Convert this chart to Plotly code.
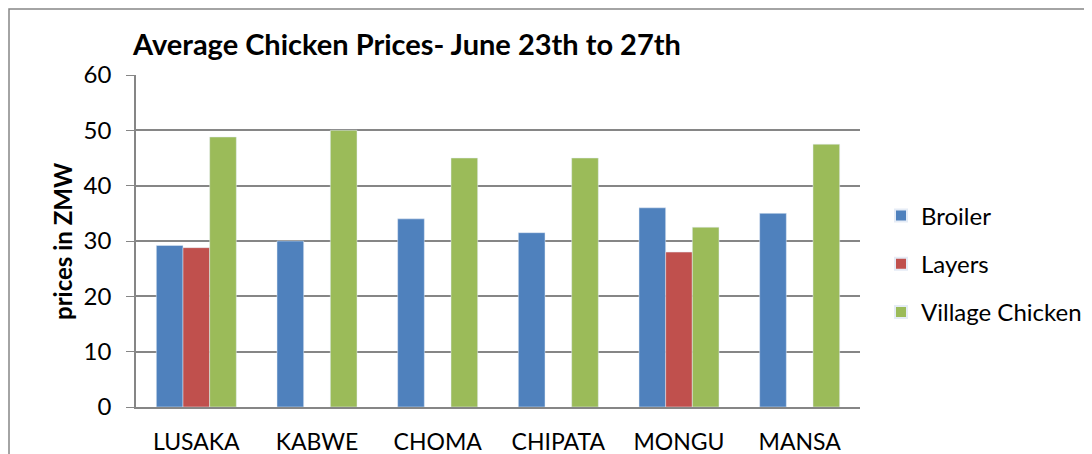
import plotly.graph_objects as go

cities = ["LUSAKA", "KABWE", "CHOMA", "CHIPATA", "MONGU", "MANSA"]
broiler = [29.2, 30, 34, 31.5, 36, 35]
layers = [28.8, None, None, None, 28, None]
village = [48.8, 50, 45, 45, 32.5, 47.5]
y_ticks = [0, 10, 20, 30, 40, 50, 60]

FONT = "Lato, Carlito, sans-serif"
OFF = 8  # page body margin
X0, X1, Y0, Y1 = 136, 860, 407, 75  # plot area on screen
PW, PH = X1 - X0, Y0 - Y1


def px(x):
    return (x - X0) / PW


def py(y):
    return (Y0 - y) / PH


fig = go.Figure()
fig.add_trace(go.Bar(name="Broiler", x=cities, y=broiler, marker_color="#4F81BD", legendgroup="a"))
fig.add_trace(go.Bar(name="Layers", x=cities, y=layers, marker_color="#C0504D", legendgroup="b"))
fig.add_trace(go.Bar(name="Village Chicken", x=cities, y=village, marker_color="#9BBB59", legendgroup="c"))

fig.update_layout(
    width=1092, height=454,
    barmode="group", bargap=0.337, bargroupgap=0,
    paper_bgcolor="white", plot_bgcolor="white",
    margin=dict(l=X0 - OFF, r=1092 - X1 + OFF, t=Y1 - OFF, b=454 - Y0 + OFF),
    font=dict(family=FONT, size=22, color="black"),
    title=dict(text="<b>Average Chicken Prices- June 23th to 27th</b>",
               x=(133 - OFF) / 1092, xanchor="left", xref="container",
               y=1 - (45 - OFF) / 454, yanchor="middle", yref="container",
               font=dict(size=29, family=FONT)),
    legend=dict(x=px(881), xanchor="left", y=py(264), yanchor="middle",
                font=dict(size=24), itemsizing="constant", tracegroupgap=14,
                bgcolor="rgba(0,0,0,0)"),
    showlegend=True,
)
fig.update_yaxes(range=[0, 60], tickvals=y_ticks, showgrid=True, gridcolor="#868686",
                 gridwidth=1.5, showline=True, linecolor="#868686", linewidth=1.5,
                 ticks="outside", ticklen=8, tickcolor="#868686", zeroline=False,
                 ticklabelstandoff=10, tickfont=dict(size=24), automargin=False)
fig.update_xaxes(showline=True, linecolor="#868686", linewidth=1.5, ticks="",
                 ticklabelstandoff=14, tickfont=dict(size=23), automargin=False)
fig.add_annotation(text="<b>prices in ZMW</b>", textangle=-90, x=px(62), xref="paper",
                   xanchor="center", yanchor="middle",
                   y=py(241), yref="paper", showarrow=False, font=dict(size=24))
fig.add_shape(type="rect", xref="paper", yref="paper",
              x0=px(9), x1=px(1110), y0=py(470), y1=py(9),
              line=dict(color="#868686", width=1.5), fillcolor="rgba(0,0,0,0)")

fig.write_html("out.html")
